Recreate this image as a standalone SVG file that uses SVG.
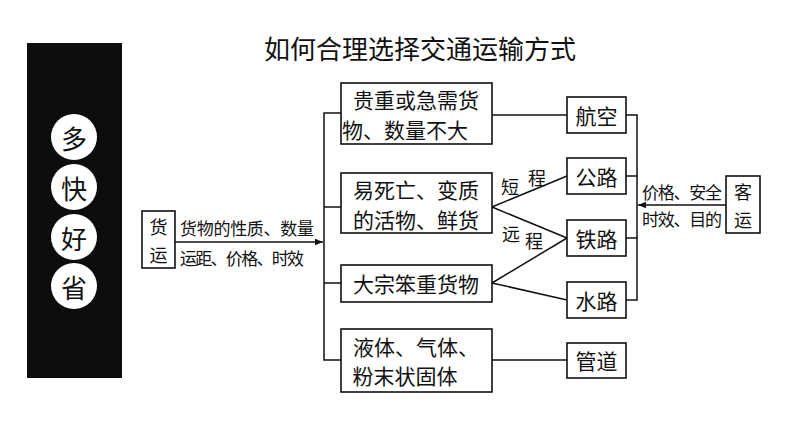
<svg xmlns="http://www.w3.org/2000/svg" width="794" height="447" viewBox="0 0 794 447">
<defs>
<style>
text{font-family:"Noto Sans CJK SC","Noto Sans CJK TC",sans-serif;fill:#111;}
.box{fill:#fff;stroke:#111;stroke-width:1.6;}
.ln{fill:none;stroke:#111;stroke-width:1.5;}
.t{font-size:21px;text-anchor:middle;dominant-baseline:central;}
.v{font-size:18px;text-anchor:middle;dominant-baseline:central;}
.s{font-size:17px;dominant-baseline:central;}
.c{font-size:26px;text-anchor:middle;dominant-baseline:central;}
</style>
<marker id="ah" viewBox="0 0 10 10" refX="10" refY="5" markerWidth="8" markerHeight="8" markerUnits="userSpaceOnUse" orient="auto">
<path d="M0,1 L10,5 L0,9 Z" fill="#111"/>
</marker>
</defs>
<rect width="794" height="447" fill="#fff"/>
<g id="sidebar">
<rect x="27" y="43" width="95" height="335" fill="#0d0d0d"/>
<circle cx="74" cy="137" r="23" fill="#fff"/>
<circle cx="74" cy="187" r="23" fill="#fff"/>
<circle cx="74" cy="237" r="23" fill="#fff"/>
<circle cx="74" cy="286" r="23" fill="#fff"/>
<text class="c" x="74" y="137">多</text>
<text class="c" x="74" y="187">快</text>
<text class="c" x="74" y="237">好</text>
<text class="c" x="74" y="286">省</text>
</g>
<g id="title">
<text x="420" y="47" style="font-size:26px;text-anchor:middle;dominant-baseline:central">如何合理选择交通运输方式</text>
</g>
<g id="connectors">
<line class="ln" x1="175" y1="242" x2="323" y2="242" marker-end="url(#ah)"/>
<polyline class="ln" points="341,113 324,113 324,360 341,360"/>
<line class="ln" x1="324" y1="207" x2="341" y2="207"/>
<line class="ln" x1="324" y1="283" x2="341" y2="283"/>
<line class="ln" x1="492" y1="115" x2="567" y2="115"/>
<line class="ln" x1="492" y1="207" x2="567" y2="176"/>
<line class="ln" x1="492" y1="207" x2="567" y2="238"/>
<line class="ln" x1="492" y1="283" x2="567" y2="238"/>
<line class="ln" x1="492" y1="283" x2="567" y2="300"/>
<line class="ln" x1="492" y1="360" x2="567" y2="360"/>
<polyline class="ln" points="626,115 637,115 637,300 626,300"/>
<line class="ln" x1="626" y1="176" x2="637" y2="176"/>
<line class="ln" x1="626" y1="238" x2="637" y2="238"/>
<line class="ln" x1="726" y1="205" x2="638" y2="205" marker-end="url(#ah)"/>
<text class="s" x="180" y="227" textLength="134" lengthAdjust="spacing">货物的性质、数量</text>
<text class="s" x="180" y="257" textLength="124" lengthAdjust="spacing">运距、价格、时效</text>
<text class="s" x="642" y="191" textLength="80" lengthAdjust="spacing">价格、安全</text>
<text class="s" x="642" y="218" textLength="80" lengthAdjust="spacing">时效、目的</text>
<text class="s" x="510" y="186" style="font-size:18px;text-anchor:middle">短</text>
<text class="s" x="537" y="177" style="font-size:18px;text-anchor:middle">程</text>
<text class="s" x="511" y="233" style="font-size:18px;text-anchor:middle">远</text>
<text class="s" x="534" y="240" style="font-size:18px;text-anchor:middle">程</text>
</g>
<g id="huoyun">
<rect class="box" x="142" y="211" width="33" height="57"/>
<text class="v" x="158.5" y="226">货</text>
<text class="v" x="158.5" y="254">运</text>
</g>
<g id="keyun">
<rect class="box" x="726" y="176" width="34" height="57"/>
<text class="v" x="743" y="191">客</text>
<text class="v" x="743" y="219">运</text>
</g>
<g id="n1">
<rect class="box" x="341" y="83" width="151" height="61"/>
<text class="t" x="416" y="99">贵重或急需货</text>
<text class="t" x="405" y="129">物、数量不大</text>
</g>
<g id="n2">
<rect class="box" x="341" y="173" width="151" height="60"/>
<text class="t" x="416" y="189">易死亡、变质</text>
<text class="t" x="416" y="219">的活物、鲜货</text>
</g>
<g id="n3">
<rect class="box" x="341" y="265" width="151" height="37"/>
<text class="t" x="416" y="283">大宗笨重货物</text>
</g>
<g id="n4">
<rect class="box" x="341" y="329" width="151" height="63"/>
<text class="t" x="416" y="346">液体、气体、</text>
<text class="t" x="405" y="375">粉末状固体</text>
</g>
<g id="hangkong">
<rect class="box" x="567" y="97" width="59" height="36"/>
<text class="t" x="596.5" y="115">航空</text>
</g>
<g id="gonglu">
<rect class="box" x="567" y="158" width="59" height="36"/>
<text class="t" x="596.5" y="176">公路</text>
</g>
<g id="tielu">
<rect class="box" x="567" y="220" width="59" height="36"/>
<text class="t" x="596.5" y="238">铁路</text>
</g>
<g id="shuilu">
<rect class="box" x="567" y="282" width="59" height="36"/>
<text class="t" x="596.5" y="300">水路</text>
</g>
<g id="guandao">
<rect class="box" x="567" y="343" width="59" height="35"/>
<text class="t" x="596.5" y="360">管道</text>
</g>
</svg>
